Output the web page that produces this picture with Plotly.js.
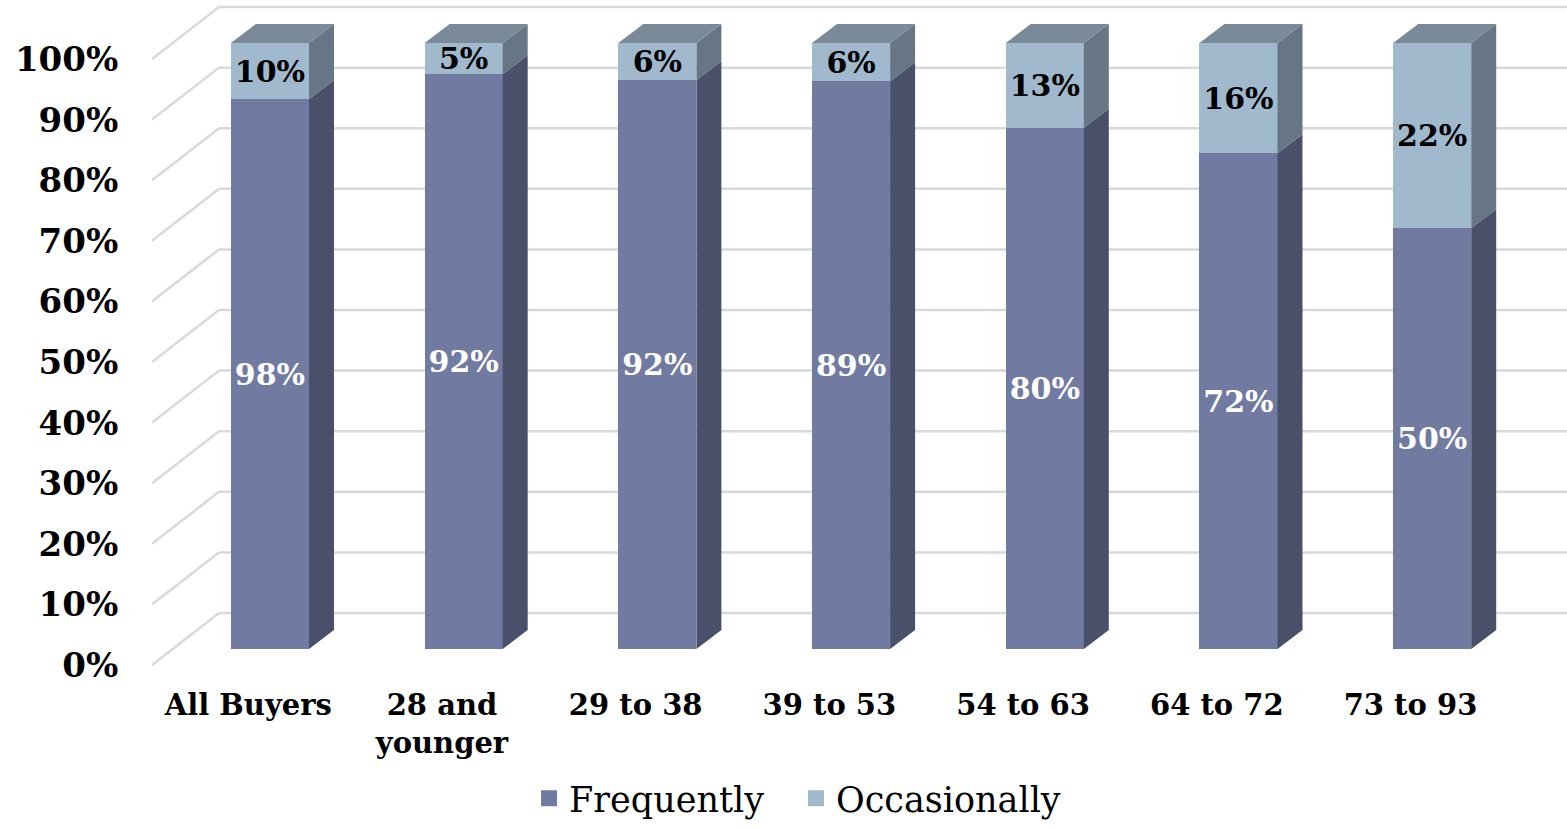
<!DOCTYPE html>
<html>
<head>
<meta charset="utf-8">
<script src="https://cdn.plot.ly/plotly-3.0.1.min.js"></script>
<style>html,body{margin:0;padding:0;background:#fff;}#chart{width:1567px;height:828px;}</style>
</head>
<body>
<div id="chart"></div>
<script>
// ---- data ----
const categories = ['All Buyers', '28 and<br>younger', '29 to 38', '39 to 53', '54 to 63', '64 to 72', '73 to 93'];
const seriesNames = ['Frequently', 'Occasionally'];
const frequently = [98, 92, 92, 89, 80, 72, 50];
const occasionally = [10, 5, 6, 6, 13, 16, 22];
const yTickValues = [0, 10, 20, 30, 40, 50, 60, 70, 80, 90, 100];

// ---- styling / geometry constants ----
const SERIF_BOLD = 'DejaVu Serif';
const C_FREQ = '#717AA0', C_FREQ_SIDE = '#49506A';
const C_OCC = '#A0B9CD', C_OCC_SIDE = '#677684', C_TOP = '#7A8A98';
const BAR_W = 0.403;
const BAR_DX = 0.129, BAR_DY = 3.13;          // bar depth (x units, % units)
const FRONT_DX = -0.107, FRONT_DY = -2.64;    // floor front edge relative to bar fronts
const WALL_DX = 0.239, WALL_DY = 5.94;        // back wall relative to bar fronts
const X_RANGE = [-0.609, 6.696];
const Y_RANGE = [-3.465, 107.10];

const xs = categories.map((_, i) => i);
const totals = frequently.map((f, i) => f + occasionally[i]);
const freqPct = frequently.map((f, i) => f / totals[i] * 100);

// side & top faces computed from the normalised data
function poly(list) {
  const X = [], Y = [];
  list.forEach(pts => { pts.forEach(p => { X.push(p[0]); Y.push(p[1]); }); X.push(null); Y.push(null); });
  return {X, Y};
}
const freqSide = poly(xs.map((x, i) => {
  const xr = x + BAR_W / 2, f = freqPct[i];
  return [[xr, 0], [xr + BAR_DX, BAR_DY], [xr + BAR_DX, f + BAR_DY], [xr, f], [xr, 0]];
}));
const occSide = poly(xs.map((x, i) => {
  const xr = x + BAR_W / 2, f = freqPct[i];
  return [[xr, f], [xr + BAR_DX, f + BAR_DY], [xr + BAR_DX, 100 + BAR_DY], [xr, 100], [xr, f]];
}));
const topFace = poly(xs.map((x) => {
  const xl = x - BAR_W / 2, xr = x + BAR_W / 2;
  return [[xl, 100], [xr, 100], [xr + BAR_DX, 100 + BAR_DY], [xl + BAR_DX, 100 + BAR_DY], [xl, 100]];
}));

const faceTrace = (p, color) => ({
  type: 'scatter', mode: 'lines', x: p.X, y: p.Y, fill: 'toself', fillcolor: color,
  line: {width: 0, color: color}, hoverinfo: 'skip', showlegend: false
});

const traces = [
  {
    type: 'bar', name: seriesNames[0], x: xs, y: frequently, width: BAR_W,
    marker: {color: C_FREQ, line: {width: 0}},
    text: frequently.map(v => v + '%'), textposition: 'inside', insidetextanchor: 'middle',
    constraintext: 'none', textangle: 0,
    textfont: {family: SERIF_BOLD, size: 30, color: '#FFFFFF', weight: 'bold'},
    hoverinfo: 'skip', showlegend: false
  },
  {
    type: 'bar', name: seriesNames[1], x: xs, y: occasionally, width: BAR_W,
    marker: {color: C_OCC, line: {width: 0}},
    text: occasionally.map(v => v + '%'), textposition: 'inside', insidetextanchor: 'middle',
    constraintext: 'none', textangle: 0,
    textfont: {family: SERIF_BOLD, size: 30, color: '#000000', weight: 'bold'},
    hoverinfo: 'skip', showlegend: false
  },
  faceTrace(freqSide, C_FREQ_SIDE),
  faceTrace(occSide, C_OCC_SIDE),
  faceTrace(topFace, C_TOP),
  // legend entries (square swatches)
  {type: 'scatter', mode: 'markers', name: seriesNames[0], x: [null], y: [null],
   marker: {symbol: 'square', size: 16, color: C_FREQ}, hoverinfo: 'skip'},
  {type: 'scatter', mode: 'markers', name: seriesNames[1], x: [null], y: [null],
   marker: {symbol: 'square', size: 16, color: C_OCC}, hoverinfo: 'skip'}
];

// gridlines: back wall + left wall diagonals
const shapes = [];
yTickValues.forEach(v => {
  const x0 = X_RANGE[0], x1 = X_RANGE[0] + (WALL_DX - FRONT_DX);
  shapes.push({type: 'line', layer: 'below', xref: 'x', yref: 'y',
    x0: x0, y0: v + FRONT_DY, x1: x1, y1: v + WALL_DY, line: {color: '#D9D9D9', width: 2.5}});
  shapes.push({type: 'line', layer: 'below', xref: 'x', yref: 'y',
    x0: x1, y0: v + WALL_DY, x1: X_RANGE[1], y1: v + WALL_DY, line: {color: '#D9D9D9', width: 2.5}});
});

const layout = {
  width: 1567, height: 828,
  margin: {l: 152, r: 0, t: 0, b: 158},
  paper_bgcolor: '#FFFFFF', plot_bgcolor: 'rgba(0,0,0,0)',
  barmode: 'stack', barnorm: 'percent',
  showlegend: true,
  xaxis: {
    range: X_RANGE, showgrid: false, zeroline: false, showline: false,
    tickmode: 'array', tickvals: xs.map(x => x - 0.112), ticktext: categories,
    ticks: 'outside', ticklen: 9, tickcolor: 'rgba(0,0,0,0)',
    tickfont: {family: SERIF_BOLD, size: 29, color: '#000000', weight: 'bold'},
    fixedrange: true
  },
  yaxis: {
    range: Y_RANGE, visible: false, showgrid: false, zeroline: false, fixedrange: true
  },
  yaxis2: {
    overlaying: 'y', side: 'left', anchor: 'x',
    range: [Y_RANGE[0] - FRONT_DY, Y_RANGE[1] - FRONT_DY],
    tickmode: 'array', tickvals: yTickValues, ticktext: yTickValues.map(v => v + '%'),
    showgrid: false, zeroline: false, showline: false,
    ticks: 'outside', ticklen: 26, tickcolor: 'rgba(0,0,0,0)',
    tickfont: {family: SERIF_BOLD, size: 34, color: '#000000', weight: 'bold'},
    fixedrange: true
  },
  shapes: shapes,
  legend: {
    orientation: 'h', traceorder: 'normal',
    xref: 'container', yref: 'container', x: 0.508, xanchor: 'center', y: 0, yanchor: 'bottom',
    entrywidth: 222, entrywidthmode: 'pixels',
    font: {family: 'DejaVu Serif', size: 35, color: '#000000'},
    itemclick: false, itemdoubleclick: false
  }
};

// invisible point on yaxis2 so the axis is drawn
traces.push({type: 'scatter', x: [X_RANGE[0]], y: [0], yaxis: 'y2', mode: 'markers',
  marker: {opacity: 0}, hoverinfo: 'skip', showlegend: false});

Plotly.newPlot('chart', traces, layout, {displayModeBar: false, staticPlot: true});
</script>
</body>
</html>
